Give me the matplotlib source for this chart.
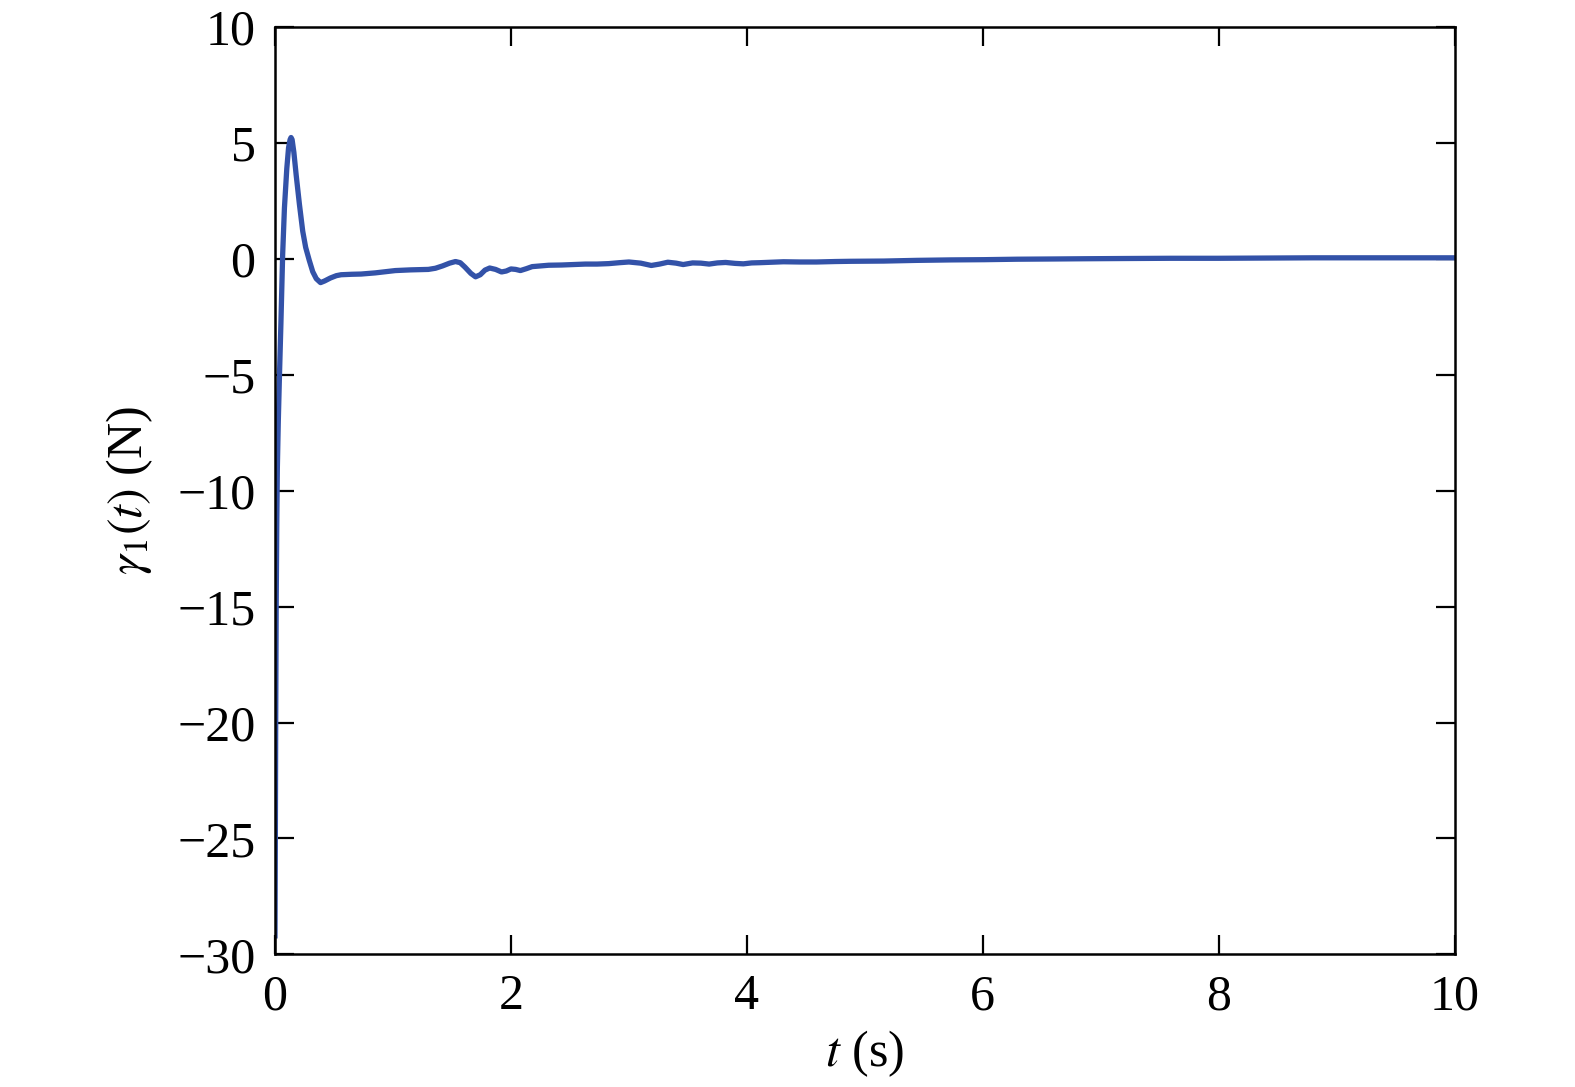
import matplotlib
matplotlib.use("Agg")
import matplotlib.pyplot as plt
import numpy as np

# data
t = [0.0, 0.003, 0.006, 0.01, 0.015, 0.02, 0.028, 0.037, 0.05, 0.065, 0.08, 0.1, 0.115,
     0.128, 0.136, 0.145, 0.16, 0.18, 0.207, 0.235, 0.26, 0.29, 0.32, 0.35, 0.386, 0.42,
     0.47, 0.52, 0.56, 0.65, 0.73, 0.85, 1.02, 1.15, 1.30, 1.36, 1.42, 1.48, 1.53, 1.57,
     1.61, 1.66, 1.70, 1.74, 1.78, 1.82, 1.87, 1.92, 1.96, 2.0, 2.04, 2.08, 2.13, 2.18, 2.25,
     2.32, 2.43, 2.53, 2.63, 2.73, 2.83, 2.92, 3.0, 3.1, 3.19, 3.26, 3.33, 3.4,
     3.46, 3.54, 3.61, 3.68, 3.75, 3.82, 3.9, 3.97, 4.04, 4.11, 4.31, 4.45, 4.59,
     4.75, 4.88, 5.16, 5.44, 5.73, 6.01, 6.29, 6.6, 6.86, 7.2, 7.6, 8.0, 8.4, 8.8,
     9.2, 9.6, 10.0]
gamma1 = [-29.2, -25.0, -20.0, -15.0, -11.5, -9.0, -7.0, -5.2, -2.8, 0.2, 2.2, 3.9, 4.8,
          5.15, 5.24, 5.15, 4.6, 3.6, 2.36, 1.2, 0.5, -0.05, -0.55, -0.85, -1.02, -0.95,
          -0.82, -0.72, -0.68, -0.66, -0.65, -0.6, -0.5, -0.47, -0.45, -0.4, -0.3, -0.18, -0.11, -0.16,
          -0.35, -0.62, -0.77, -0.68, -0.48, -0.39, -0.45, -0.56, -0.52, -0.43, -0.45, -0.5, -0.42, -0.33, -0.3,
          -0.27, -0.26, -0.24, -0.22, -0.22, -0.2, -0.16, -0.13, -0.18, -0.28, -0.22, -0.14, -0.18,
          -0.24, -0.17, -0.18, -0.22, -0.17, -0.15, -0.19, -0.21, -0.17, -0.16, -0.12, -0.13, -0.13,
          -0.11, -0.1, -0.09, -0.06, -0.04, -0.03, -0.01, 0.0, 0.01, 0.02, 0.03, 0.03, 0.04, 0.05,
          0.05, 0.05, 0.05]

x_ticks = [0, 2, 4, 6, 8, 10]
y_ticks = [-30, -25, -20, -15, -10, -5, 0, 5, 10]

plt.rcParams['font.family'] = ['Liberation Serif', 'DejaVu Serif']
plt.rcParams['mathtext.fontset'] = 'stix'

fig = plt.figure(figsize=(15.75, 10.87), dpi=100)
ax = fig.add_axes([0.1746, 0.122, 0.749, 0.853])
ax.plot(t, gamma1, color='#3352a8', linewidth=3.8, solid_joinstyle='round')

ax.set_xlim(0, 10)
ax.set_ylim(-30, 10)
ax.set_xticks(x_ticks)
ax.set_yticks(y_ticks)
ax.set_yticklabels([str(v).replace('-', '\u2212') for v in y_ticks])
ax.tick_params(direction='in', length=14, width=1.6, labelsize=36,
               top=True, right=True)
ax.tick_params(axis='x', pad=14)
ax.tick_params(axis='y', pad=14)
for s in ax.spines.values():
    s.set_linewidth(1.8)

ax.set_xlabel('$t$ (s)', fontsize=36, labelpad=6)
ax.set_ylabel(r'$\gamma_1(t)$ (N)', fontsize=36, labelpad=16)

fig.savefig('out.png', dpi=100)
